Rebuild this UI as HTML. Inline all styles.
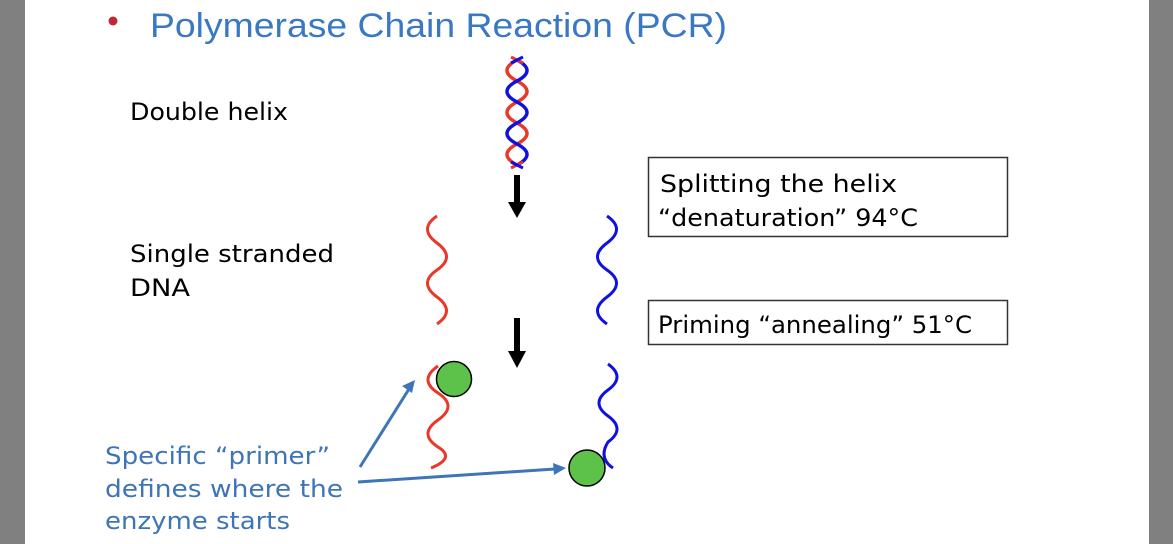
<!DOCTYPE html>
<html><head><meta charset="utf-8"><style>
html,body{margin:0;padding:0;background:#fff}
svg{display:block}
</style></head><body>
<svg width="1173" height="544" viewBox="0 0 1173 544" xmlns="http://www.w3.org/2000/svg">
<rect x="0" y="0" width="1173" height="544" fill="#fff"/>
<rect x="0" y="0" width="25" height="544" fill="#808080"/>
<rect x="1149" y="0" width="24" height="544" fill="#808080"/>
<circle cx="113" cy="21" r="4.5" fill="#c0283a"/>
<text x="150" y="37" font-family="Liberation Sans, sans-serif" font-size="34" fill="#3a78c3" textLength="577" lengthAdjust="spacingAndGlyphs">Polymerase Chain Reaction (PCR)</text>

<g font-family="DejaVu Sans, sans-serif" font-size="24" fill="#000">
<text x="130" y="120" textLength="158" lengthAdjust="spacingAndGlyphs">Double helix</text>
<text x="130" y="262" textLength="204" lengthAdjust="spacingAndGlyphs">Single stranded</text>
<text x="130" y="296" textLength="60" lengthAdjust="spacingAndGlyphs">DNA</text>
<text x="660" y="192" textLength="237" lengthAdjust="spacingAndGlyphs">Splitting the helix</text>
<text x="658" y="226" textLength="260" lengthAdjust="spacingAndGlyphs">“denaturation” 94°C</text>
<text x="658" y="333" textLength="314" lengthAdjust="spacingAndGlyphs">Priming “annealing” 51°C</text>
</g>
<g font-family="DejaVu Sans, sans-serif" font-size="24" fill="#3f74b7">
<text x="105" y="464" textLength="225" lengthAdjust="spacingAndGlyphs">Specific “primer”</text>
<text x="105" y="497" textLength="238" lengthAdjust="spacingAndGlyphs">defines where the</text>
<text x="105" y="529" textLength="185" lengthAdjust="spacingAndGlyphs">enzyme starts</text>
</g>

<rect x="648.5" y="157.5" width="359" height="79" fill="none" stroke="#333" stroke-width="1.5"/>
<rect x="648.5" y="300.5" width="359" height="44" fill="none" stroke="#333" stroke-width="1.5"/>

<!-- helix -->
<g fill="none" stroke-width="3.5">
<path d="M517,60 Q497,70.5 517,81 T517,102 T517,123 T517,144 T517,165" stroke="#e8382a"/>
<path d="M517,60 Q537,70.5 517,81 T517,102 T517,123 T517,144 T517,165" stroke="#1010e0"/>
<path d="M511,57 L523,63 M511,168 L523,162" stroke="#e8382a" stroke-width="3"/>
<path d="M523,57 L511,63 M523,168 L511,162" stroke="#1010e0" stroke-width="3"/>
</g>

<!-- black arrows -->
<rect x="514" y="175" width="6" height="28" fill="#000"/>
<polygon points="508,202 526,202 517,218" fill="#000"/>
<rect x="514" y="318" width="6" height="34" fill="#000"/>
<polygon points="508,351 526,351 517,368" fill="#000"/>

<!-- single strands -->
<g fill="none" stroke-width="3">
<path d="M437,216 Q418,229 437,243 T437,270 T437,297 T437,324" stroke="#e8382a"/>
<path d="M607,216 Q626,229 607,243 T607,270 T607,297 T607,324" stroke="#1010e0"/>
<path d="M438,366 Q418,380 438,393 T438,420 T438,447 Q456,458 431,468" stroke="#e8382a"/>
<path d="M608,364 Q626,377 608,390 T608,416 T608,442 Q598,458 613,468" stroke="#1010e0"/>
</g>

<circle cx="454" cy="379" r="17.5" fill="#5cc24a" stroke="#000" stroke-width="1.5"/>
<circle cx="587" cy="468" r="18" fill="#5cc24a" stroke="#000" stroke-width="1.5"/>

<!-- blue pointer arrows -->
<g stroke="#3f74b7" stroke-width="3" fill="#3f74b7">
<line x1="360" y1="467" x2="409" y2="389"/>
<polygon points="415,380 402,386 412,393" stroke="none"/>
<line x1="358" y1="482" x2="555" y2="469"/>
<polygon points="566,468 553,463 554,475" stroke="none"/>
</g>
</svg>
</body></html>
